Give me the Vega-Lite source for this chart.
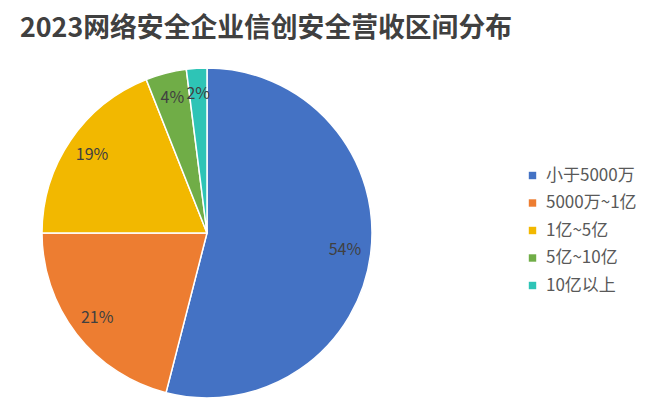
{
  "$schema": "https://vega.github.io/schema/vega-lite/v6.json",
  "width": 330,
  "height": 330,
  "autosize": {"type": "none"},
  "padding": {"left": 42, "top": 68, "right": 279, "bottom": 13},
  "background": "white",
  "title": {
    "text": "2023网络安全企业信创安全营收区间分布",
    "anchor": "start",
    "dx": -19,
    "offset": 22,
    "font": "Noto Sans CJK SC",
    "fontSize": 26.8,
    "fontWeight": "bold",
    "color": "#404040"
  },
  "data": {
    "values": [
      {"range": "小于5000万", "share": 54, "label": "54%", "idx": 1},
      {"range": "5000万~1亿", "share": 21, "label": "21%", "idx": 2},
      {"range": "1亿~5亿", "share": 19, "label": "19%", "idx": 3},
      {"range": "5亿~10亿", "share": 4, "label": "4%", "idx": 4},
      {"range": "10亿以上", "share": 2, "label": "2%", "idx": 5}
    ]
  },
  "encoding": {
    "theta": {"field": "share", "type": "quantitative", "stack": true},
    "order": {"field": "idx", "type": "quantitative"},
    "color": {
      "field": "range",
      "type": "nominal",
      "sort": ["小于5000万", "5000万~1亿", "1亿~5亿", "5亿~10亿", "10亿以上"],
      "scale": {
        "domain": ["小于5000万", "5000万~1亿", "1亿~5亿", "5亿~10亿", "10亿以上"],
        "range": ["#4472C4", "#ED7D31", "#F2B800", "#70AD47", "#2EC4B6"]
      },
      "legend": {
        "title": null,
        "orient": "none",
        "legendX": 482,
        "legendY": 99,
        "symbolType": "square",
        "symbolSize": 55,
        "symbolStrokeWidth": 0,
        "labelFont": "Noto Sans CJK SC",
        "labelFontSize": 17,
        "labelColor": "#595959",
        "rowPadding": 9.5,
        "labelOffset": 5,
        "labelLimit": 200
      }
    }
  },
  "layer": [
    {
      "mark": {"type": "arc", "outerRadius": 165, "stroke": "white", "strokeWidth": 1.5}
    },
    {
      "mark": {"type": "text", "radius": 139, "font": "Noto Sans CJK SC", "fontSize": 16, "color": "#404040"},
      "encoding": {
        "text": {"field": "label", "type": "nominal"},
        "color": {"value": "#404040"}
      }
    }
  ]
}
